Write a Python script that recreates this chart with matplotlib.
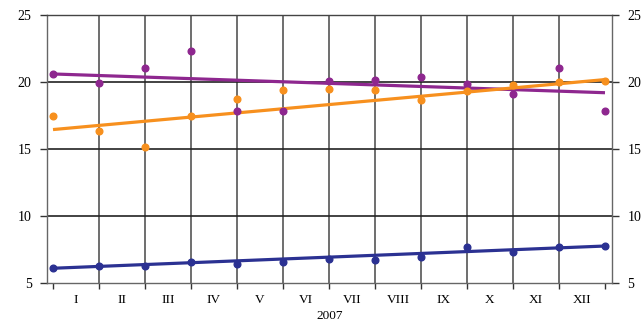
import matplotlib.pyplot as plt
import numpy as np

plt.rcParams['font.family'] = ['Liberation Serif', 'DejaVu Serif']

months = ['I', 'II', 'III', 'IV', 'V', 'VI', 'VII', 'VIII', 'IX', 'X', 'XI', 'XII']
year_label = '2007'

# values at the month boundaries (13 points)
purple_vals = [20.6, 19.95, 21.03, 22.3, 17.82, 17.82, 20.1, 20.18, 20.35, 19.88, 19.1, 21.05, 17.8]
orange_vals = [17.5, 16.35, 15.12, 17.43, 18.75, 19.38, 19.45, 19.43, 18.65, 19.33, 19.75, 20.0, 20.08]
blue_vals = [6.12, 6.3, 6.3, 6.55, 6.45, 6.57, 6.8, 6.75, 6.95, 7.67, 7.32, 7.65, 7.77]

# trend lines: value at first and last point
purple_trend = [20.6, 19.2]
orange_trend = [16.45, 20.18]
blue_trend = [6.1, 7.76]

purple = '#8e278f'
orange = '#f7901e'
blue = '#2b3192'

x = np.arange(len(purple_vals))

fig = plt.figure(figsize=(6.42, 3.24), dpi=100)
ax = fig.add_axes([47/642, 1 - 283/324, (612 - 47)/642, (283 - 15)/324])

# grid
for xi in x[1:-1]:
    ax.axvline(xi, color='#555555', lw=1.2, zorder=1)
for yi in [10, 15, 20]:
    ax.axhline(yi, color='#222222', lw=1.2, zorder=1)

for vals, trend, c in [(purple_vals, purple_trend, purple),
                       (orange_vals, orange_trend, orange),
                       (blue_vals, blue_trend, blue)]:
    ax.plot(x, vals, 'o', color=c, ms=4.8, zorder=3)
    ax.plot([x[0], x[-1]], trend, '-', color=c, lw=2.3, zorder=2,
            solid_capstyle='butt')

ax.set_xlim(-6/46, 12 + 7/46)
ax.set_ylim(5, 25)

for s in ax.spines.values():
    s.set_color('#666666')
    s.set_linewidth(1.0)
ax.spines['top'].set_color('#444444')

ax.set_yticks([5, 10, 15, 20, 25])
ax.tick_params(axis='y', which='major', direction='out', length=5, width=1,
               color='#333333', labelsize=10, pad=6,
               left=True, right=True, labelleft=True, labelright=True)

ax.set_xticks(x)
ax.set_xticklabels([''] * len(x))
ax.set_xticks(x[:-1] + 0.5, minor=True)
ax.set_xticklabels(months, minor=True)
ax.tick_params(axis='x', which='major', direction='out', length=4, width=1,
               color='#333333')
ax.tick_params(axis='x', which='minor', length=0, labelsize=9.5, pad=8)

ax.set_xlabel(year_label, fontsize=9.5, labelpad=3)

fig.savefig('out.png', dpi=100)
